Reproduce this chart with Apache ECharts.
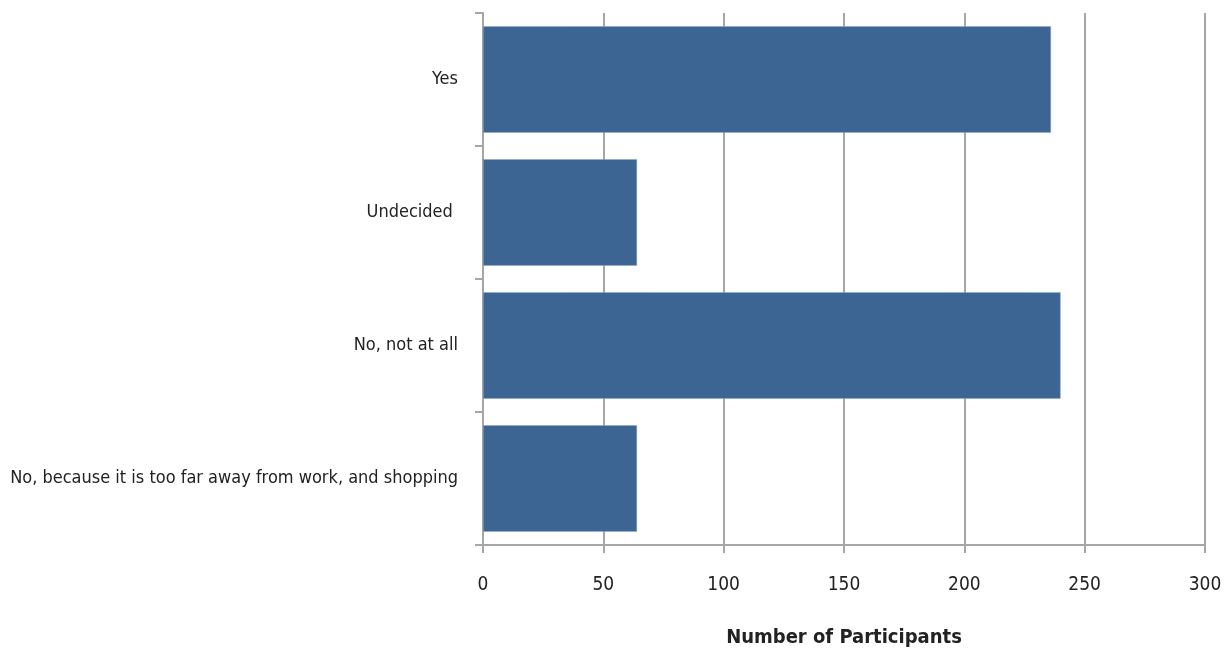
<!DOCTYPE html>
<html><head><meta charset="utf-8">
<script src="https://cdn.jsdelivr.net/npm/echarts@6/dist/echarts.min.js"></script>
<style>html,body{margin:0;padding:0;background:#fff}#c{width:1224px;height:652px}</style>
</head><body><div id="c"></div>
<script>
const categories = ["Yes", "Undecided ", "No, not at all", "No, because it is too far away from work, and shopping"];
const values = [236, 64, 240, 64];
const xTicks = { min: 0, max: 300, interval: 50 };
const FONT = "'Liberation Sans Narrow', 'DejaVu Sans Condensed', 'Roboto Condensed', sans-serif";
const chart = echarts.init(document.getElementById('c'));
chart.setOption({
  animation: false,
  grid: { left: 483, right: 19, top: 13, bottom: 107, containLabel: false, outerBoundsMode: 'none' },
  xAxis: {
    type: 'value', min: xTicks.min, max: xTicks.max, interval: xTicks.interval,
    name: 'Number of Participants', nameLocation: 'middle', nameGap: 83,
    nameTextStyle: { fontFamily: FONT, fontSize: 20, fontWeight: 'bold', color: '#222' },
    axisLine: { show: true, lineStyle: { color: '#a6a6a6', width: 2 } },
    axisTick: { show: true, length: 8, lineStyle: { color: '#a6a6a6', width: 2 } },
    splitLine: { show: true, lineStyle: { color: '#a6a6a6', width: 2 } },
    axisLabel: { margin: 31, fontFamily: FONT, fontSize: 19, color: '#222' }
  },
  yAxis: {
    type: 'category', data: categories, inverse: true,
    axisLine: { show: true, lineStyle: { color: '#a6a6a6', width: 2 } },
    axisTick: { show: true, length: 8, lineStyle: { color: '#a6a6a6', width: 2 } },
    axisLabel: { margin: 25, fontFamily: FONT, fontSize: 18, color: '#222' }
  },
  series: [{
    type: 'bar', data: values, barCategoryGap: '20%',
    itemStyle: { color: '#3d6594', borderColor: '#8fa8c6', borderWidth: 0.5 }
  }]
});
</script></body></html>
